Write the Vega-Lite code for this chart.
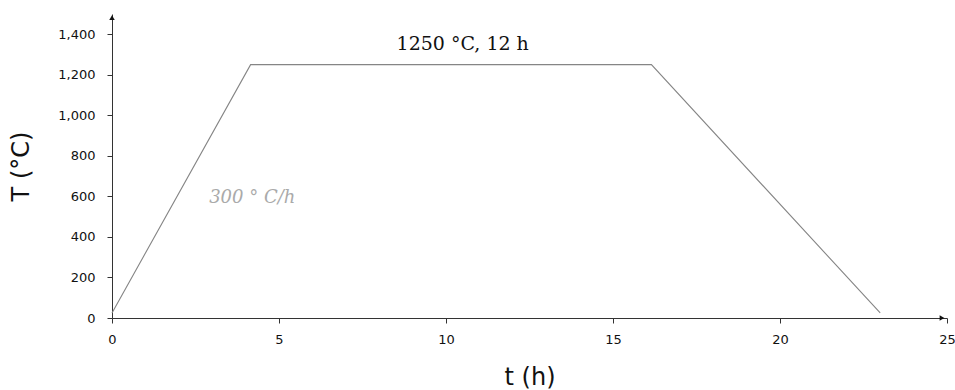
{
  "$schema": "https://vega.github.io/schema/vega-lite/v6.json",
  "width": 835,
  "height": 304,
  "autosize": "none",
  "padding": {"left": 112, "top": 14, "right": 8, "bottom": 72},
  "background": "white",
  "config": {
    "view": {"stroke": null},
    "axis": {
      "grid": false,
      "domainColor": "#333",
      "tickColor": "#333",
      "tickSize": 5,
      "labelFont": "DejaVu Sans",
      "labelFontSize": 13,
      "labelColor": "#111",
      "titleFont": "DejaVu Sans",
      "titleFontSize": 24,
      "titleFontWeight": "normal",
      "titleColor": "#111"
    }
  },
  "datasets": {
    "profile": [
      {"t": 0, "T": 25},
      {"t": 4.15, "T": 1250},
      {"t": 16.15, "T": 1250},
      {"t": 23, "T": 25}
    ],
    "labels": [
      {"t": 10.5, "T": 1322, "label": "1250 °C, 12 h", "kind": "plateau"},
      {"t": 4.2, "T": 567, "label": "300 ° C/h", "kind": "rate"}
    ]
  },
  "layer": [
    {
      "data": {"name": "profile"},
      "mark": {"type": "line", "color": "#858585", "strokeWidth": 1.1},
      "encoding": {
        "x": {
          "field": "t", "type": "quantitative",
          "scale": {"domain": [0, 25], "nice": false, "zero": false},
          "axis": {"values": [0, 5, 10, 15, 20, 25], "title": "t (h)", "labelPadding": 10, "titlePadding": 19, "labelFlush": false}
        },
        "y": {
          "field": "T", "type": "quantitative",
          "scale": {"domain": [0, 1500], "nice": false},
          "axis": {"values": [0, 200, 400, 600, 800, 1000, 1200, 1400], "format": ",d", "title": "T (°C)", "labelPadding": 12, "titlePadding": 24, "labelFlush": false}
        }
      }
    },
    {
      "data": {"values": [{"t": 0, "T": 1482}]},
      "mark": {"type": "point", "shape": "triangle-up", "filled": true, "color": "#111", "size": 30, "opacity": 1},
      "encoding": {
        "x": {"field": "t", "type": "quantitative"},
        "y": {"field": "T", "type": "quantitative"}
      }
    },
    {
      "data": {"values": [{"t": 24.85, "T": 0}]},
      "mark": {"type": "point", "shape": "triangle-right", "filled": true, "color": "#111", "size": 30, "opacity": 1},
      "encoding": {
        "x": {"field": "t", "type": "quantitative"},
        "y": {"field": "T", "type": "quantitative"}
      }
    },
    {
      "data": {"name": "labels"},
      "transform": [{"filter": "datum.kind == 'plateau'"}],
      "mark": {"type": "text", "font": "DejaVu Serif", "fontSize": 19, "color": "#111", "baseline": "alphabetic", "align": "center"},
      "encoding": {
        "x": {"field": "t", "type": "quantitative"},
        "y": {"field": "T", "type": "quantitative"},
        "text": {"field": "label"}
      }
    },
    {
      "data": {"name": "labels"},
      "transform": [{"filter": "datum.kind == 'rate'"}],
      "mark": {"type": "text", "font": "DejaVu Serif", "fontStyle": "italic", "fontSize": 18, "color": "#aaaaaa", "baseline": "alphabetic", "align": "center"},
      "encoding": {
        "x": {"field": "t", "type": "quantitative"},
        "y": {"field": "T", "type": "quantitative"},
        "text": {"field": "label"}
      }
    }
  ]
}
